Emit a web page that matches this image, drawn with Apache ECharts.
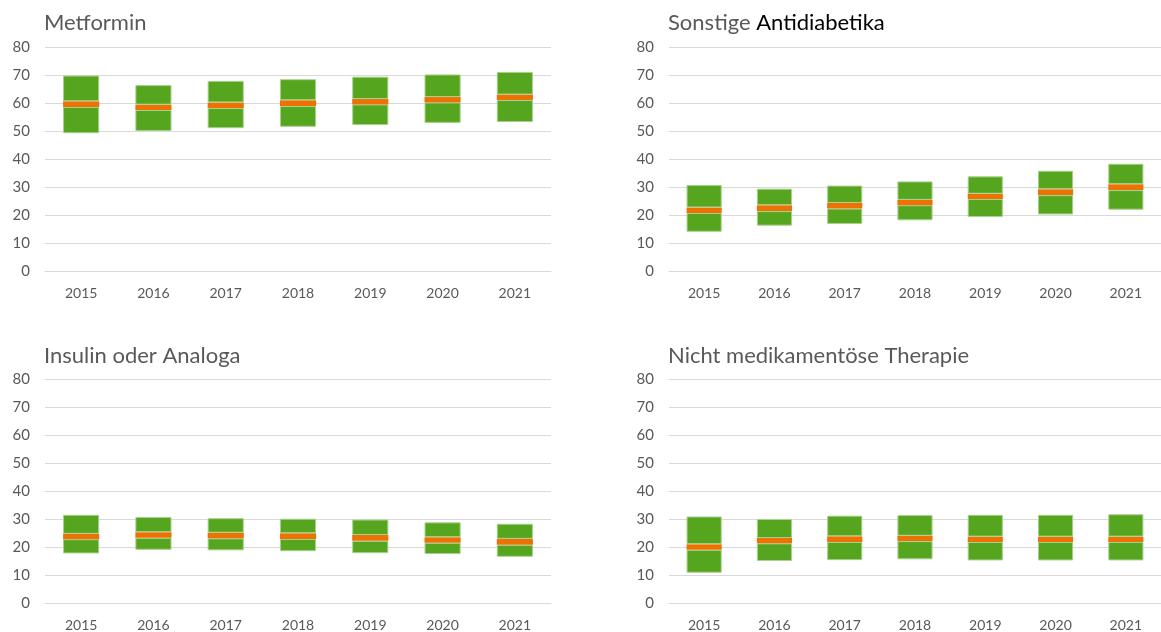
<!DOCTYPE html>
<html>
<head>
<meta charset="utf-8">
<script src="https://cdn.jsdelivr.net/npm/echarts@6/dist/echarts.min.js"></script>
<style>
  html, body { margin: 0; padding: 0; background: #fff; }
  #chart { width: 1161px; height: 632px; }
</style>
</head>
<body>
<div id="chart"></div>
<script>
// Jahre
const years = ['2015', '2016', '2017', '2018', '2019', '2020', '2021'];

// Metformin: unten, Median-Band unten, Median-Band oben, oben
const metLow = [49.2, 50.0, 51.0, 51.5, 52.1, 52.9, 53.2];
const metMedLo = [58.6, 57.5, 58.2, 58.9, 59.5, 60.2, 61.1];
const metMedHi = [60.6, 59.4, 60.2, 61.0, 61.4, 62.1, 63.0];
const metHigh = [69.8, 66.4, 67.9, 68.5, 69.4, 70.2, 71.1];

// Sonstige Antidiabetika
const sonLow = [14.0, 16.2, 16.8, 18.1, 19.3, 20.2, 21.9];
const sonMedLo = [20.7, 21.4, 22.3, 23.5, 25.7, 27.1, 28.9];
const sonMedHi = [22.7, 23.5, 24.3, 25.4, 27.6, 29.2, 31.0];
const sonHigh = [30.7, 29.4, 30.5, 32.0, 33.8, 35.8, 38.3];

// Insulin oder Analoga
const insLow = [17.7, 19.0, 18.8, 18.5, 17.8, 17.5, 16.5];
const insMedLo = [22.8, 23.3, 23.1, 22.9, 22.2, 21.5, 20.8];
const insMedHi = [24.7, 25.3, 25.1, 24.9, 24.3, 23.5, 22.9];
const insHigh = [31.5, 30.7, 30.3, 30.1, 29.8, 28.8, 28.3];

// Nicht medikamentöse Therapie
const nmtLow = [10.8, 15.0, 15.3, 15.6, 15.2, 15.2, 15.2];
const nmtMedLo = [19.0, 21.3, 21.8, 22.1, 21.8, 21.8, 21.8];
const nmtMedHi = [21.0, 23.2, 23.8, 24.0, 23.7, 23.7, 23.7];
const nmtHigh = [30.9, 30.0, 31.2, 31.4, 31.5, 31.5, 31.7];

const yTicks = { min: 0, max: 80, interval: 10 };

const GREEN = '#55a51e';
const ORANGE = '#ee7203';
const EDGE = '#a9d18e';
const GRID_LINE = '#d9d9d9';
const TEXT = '#595959';
const FONT = 'Lato, "Open Sans", sans-serif';

const panels = [
  { low: metLow, lo: metMedLo, hi: metMedHi, high: metHigh },
  { low: sonLow, lo: sonMedLo, hi: sonMedHi, high: sonHigh },
  { low: insLow, lo: insMedLo, hi: insMedHi, high: insHigh },
  { low: nmtLow, lo: nmtMedLo, hi: nmtMedHi, high: nmtHigh }
];

const grids = [
  { left: 45, top: 47, width: 506, height: 224 },
  { left: 669, top: 47, width: 506, height: 224 },
  { left: 45, top: 379, width: 506, height: 225 },
  { left: 669, top: 379, width: 506, height: 225 }
];

function diff(a, b) {
  return a.map((v, i) => +(v - b[i]).toFixed(2));
}

const series = [];
panels.forEach((p, i) => {
  const stack = 'box' + i;
  const common = {
    type: 'bar', stack: stack, xAxisIndex: i, yAxisIndex: i,
    barCategoryGap: '50%', silent: true
  };
  series.push(Object.assign({}, common, {
    data: p.low, itemStyle: { color: 'transparent' }
  }));
  series.push(Object.assign({}, common, {
    data: diff(p.lo, p.low),
    itemStyle: { color: GREEN, borderColor: EDGE, borderWidth: 1 }
  }));
  series.push(Object.assign({}, common, {
    data: diff(p.hi, p.lo),
    itemStyle: { color: ORANGE, borderWidth: 0 }
  }));
  series.push(Object.assign({}, common, {
    data: diff(p.high, p.hi),
    itemStyle: { color: GREEN, borderColor: EDGE, borderWidth: 1 }
  }));
});

const chart = echarts.init(document.getElementById('chart'));
chart.setOption({
  animation: false,
  textStyle: { fontFamily: FONT },
  title: [
    { text: 'Metformin', left: 39, top: 7 },
    { text: '{g|Sonstige }{b|Antidiabetika}', left: 663, top: 7 },
    { text: 'Insulin oder Analoga', left: 39, top: 340 },
    { text: 'Nicht medikamentöse Therapie', left: 663, top: 340 }
  ].map(t => Object.assign(t, {
    textStyle: {
      fontSize: 22, fontWeight: 'normal', color: TEXT, fontFamily: FONT,
      rich: {
        g: { fontSize: 22, color: TEXT, fontFamily: FONT },
        b: { fontSize: 22, color: '#000000', fontFamily: FONT }
      }
    }
  })),
  grid: grids,
  xAxis: grids.map((g, i) => ({
    type: 'category', gridIndex: i, data: years,
    axisLine: { show: true, lineStyle: { color: GRID_LINE } },
    axisTick: { show: false },
    axisLabel: { color: TEXT, fontSize: 14, margin: 15, fontFamily: FONT }
  })),
  yAxis: grids.map((g, i) => ({
    type: 'value', gridIndex: i,
    min: yTicks.min, max: yTicks.max, interval: yTicks.interval,
    axisLine: { show: false },
    axisTick: { show: false },
    axisLabel: { color: TEXT, fontSize: 15, margin: 15, fontFamily: FONT },
    splitLine: { lineStyle: { color: GRID_LINE, width: 1 } }
  })),
  series: series
});
</script>
</body>
</html>
